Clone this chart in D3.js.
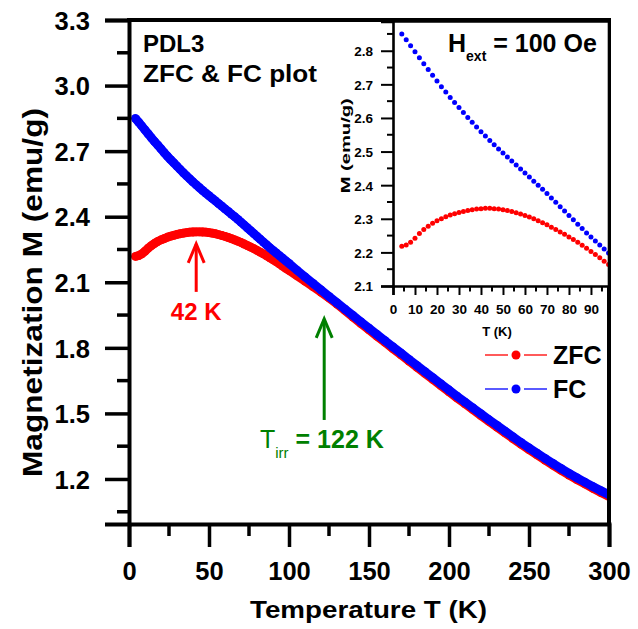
<!DOCTYPE html>
<html>
<head>
<meta charset="utf-8">
<script src="https://cdn.jsdelivr.net/npm/d3@7"></script>
<style>
  html, body { margin: 0; padding: 0; background: #fff; }
  svg { display: block; }
  text { font-family: "Liberation Sans", Arial, Helvetica, sans-serif; }
</style>
</head>
<body>
<svg id="chart" width="638" height="629"></svg>
<script>
// Temperature grid (K): 2 K steps up to 98 K, 5 K steps above
const temperature = [
  4, 6, 8, 10, 12, 14, 16, 18, 20, 22,
  24, 26, 28, 30, 32, 34, 36, 38, 40, 42,
  44, 46, 48, 50, 52, 54, 56, 58, 60, 62,
  64, 66, 68, 70, 72, 74, 76, 78, 80, 82,
  84, 86, 88, 90, 92, 94, 96, 98,
  100, 105, 110, 115, 120, 125, 130, 135, 140, 145,
  150, 155, 160, 165, 170, 175, 180, 185, 190, 195,
  200, 205, 210, 215, 220, 225, 230, 235, 240, 245,
  250, 255, 260, 265, 270, 275, 280, 285, 290, 295,
  300
];

// Zero-field-cooled magnetization (emu/g)
const magZFC = [
  2.218, 2.222, 2.230, 2.242, 2.256, 2.268, 2.278, 2.287, 2.294, 2.300,
  2.306, 2.311, 2.315, 2.319, 2.322, 2.325, 2.327, 2.329, 2.330, 2.331,
  2.331, 2.330, 2.329, 2.327, 2.325, 2.322, 2.318, 2.314, 2.310, 2.305,
  2.300, 2.294, 2.288, 2.282, 2.275, 2.268, 2.261, 2.254, 2.246, 2.238,
  2.230, 2.221, 2.212, 2.203, 2.194, 2.184, 2.174, 2.164,
  2.154, 2.130, 2.105, 2.080, 2.055, 2.028, 2.000, 1.971, 1.941, 1.911,
  1.882, 1.853, 1.825, 1.796, 1.768, 1.739, 1.711, 1.683, 1.655, 1.627,
  1.599, 1.571, 1.544, 1.517, 1.490, 1.463, 1.437, 1.411, 1.385, 1.359,
  1.334, 1.310, 1.286, 1.263, 1.240, 1.218, 1.197, 1.177, 1.157, 1.138,
  1.120
];

// Field-cooled magnetization (emu/g)
const magFC = [
  2.850, 2.833, 2.815, 2.797, 2.779, 2.761, 2.744, 2.727, 2.710, 2.693,
  2.677, 2.661, 2.646, 2.631, 2.616, 2.601, 2.587, 2.573, 2.559, 2.546,
  2.533, 2.520, 2.508, 2.496, 2.484, 2.472, 2.460, 2.448, 2.436, 2.424,
  2.412, 2.400, 2.388, 2.375, 2.362, 2.349, 2.336, 2.323, 2.310, 2.297,
  2.284, 2.271, 2.258, 2.246, 2.234, 2.222, 2.210, 2.198,
  2.186, 2.155, 2.125, 2.095, 2.065, 2.035, 2.006, 1.977, 1.948, 1.919,
  1.890, 1.861, 1.833, 1.804, 1.776, 1.747, 1.719, 1.691, 1.663, 1.635,
  1.607, 1.579, 1.552, 1.525, 1.498, 1.471, 1.445, 1.419, 1.393, 1.367,
  1.342, 1.318, 1.294, 1.271, 1.248, 1.226, 1.205, 1.185, 1.165, 1.146,
  1.128
];

// Axis ticks
const mainXTicks = [0, 50, 100, 150, 200, 250, 300];
const mainXMinor = [25, 75, 125, 175, 225, 275];
const mainYTicks = [1.2, 1.5, 1.8, 2.1, 2.4, 2.7, 3.0, 3.3];
const mainYMinor = [1.05, 1.35, 1.65, 1.95, 2.25, 2.55, 2.85, 3.15];
const insetXTicks = [0, 10, 20, 30, 40, 50, 60, 70, 80, 90];
const insetXMinor = [5, 15, 25, 35, 45, 55, 65, 75, 85, 95];
const insetYTicks = [2.1, 2.2, 2.3, 2.4, 2.5, 2.6, 2.7, 2.8];
const insetYMinor = [2.15, 2.25, 2.35, 2.45, 2.55, 2.65, 2.75, 2.85];

// Annotated temperatures (K)
const peakZFC = 42;
const tIrr = 122;

const series = [
  { name: "ZFC", color: "#ff0000", values: magZFC },
  { name: "FC",  color: "#0000ff", values: magFC }
];
const points = s => temperature.map((t, i) => ({ t, m: s.values[i] }));

const svg = d3.select("#chart");
const FONT_AXIS = 25.5;

// ---------- main panel ----------
const main = { left: 129, right: 609, top: 20, bottom: 524 };
const x = d3.scaleLinear().domain([0, 300]).range([main.left, main.right]);
const y = d3.scaleLinear().domain([0.994, 3.3]).range([main.bottom, main.top]);

svg.append("defs").append("clipPath").attr("id", "clipMain")
  .append("rect")
  .attr("x", main.left).attr("y", main.top)
  .attr("width", main.right - main.left).attr("height", main.bottom - main.top);

const plot = svg.append("g").attr("clip-path", "url(#clipMain)");
const mainR = 4.4;
series.forEach(s => {
  const pts = points(s);
  plot.append("path")
    .datum(pts)
    .attr("fill", "none")
    .attr("stroke", s.color)
    .attr("stroke-width", mainR * 2)
    .attr("stroke-linejoin", "round")
    .attr("d", d3.line().x(d => x(d.t)).y(d => y(d.m)));
  plot.append("g").selectAll("circle").data(pts).join("circle")
    .attr("cx", d => x(d.t)).attr("cy", d => y(d.m))
    .attr("r", mainR).attr("fill", s.color);
});

// Axes: ticks point outward, thick strokes
const axisX = d3.axisBottom(x).tickValues(mainXTicks).tickSize(23).tickPadding(15)
  .tickFormat(d3.format("d"));
const gx = svg.append("g").attr("transform", `translate(0,${main.bottom})`).call(axisX);
gx.append("g").selectAll("line").data(mainXMinor).join("line")
  .attr("x1", d => x(d)).attr("x2", d => x(d)).attr("y1", 0).attr("y2", 12)
  .attr("stroke", "#000").attr("stroke-width", 3.5);

const axisY = d3.axisLeft(y).tickValues(mainYTicks).tickSize(24).tickPadding(15)
  .tickFormat(d3.format(".1f"));
const gy = svg.append("g").attr("transform", `translate(${main.left},0)`).call(axisY);
gy.append("g").selectAll("line").data(mainYMinor).join("line")
  .attr("y1", d => y(d)).attr("y2", d => y(d)).attr("x1", 0).attr("x2", -12)
  .attr("stroke", "#000").attr("stroke-width", 3.5);

[gx, gy].forEach(g => {
  g.select(".domain").attr("stroke-width", 4).attr("stroke", "#000");
  g.selectAll(".tick line").attr("stroke-width", 3.5).attr("stroke", "#000");
  g.selectAll(".tick text")
    .attr("fill", "#000")
    .style("font-size", FONT_AXIS + "px")
    .style("font-weight", "bold");
});
gx.selectAll(".tick text").attr("dy", "0.71em");
gy.selectAll(".tick text").attr("dy", "0.36em");

// top and right frame lines
svg.append("path")
  .attr("d", `M${main.left - 2},${main.top} H${main.right} V${main.bottom + 2}`)
  .attr("fill", "none").attr("stroke", "#000").attr("stroke-width", 4);

// axis titles
svg.append("text")
  .attr("x", 250).attr("y", 618)
  .attr("textLength", 237).attr("lengthAdjust", "spacingAndGlyphs")
  .style("font-size", "24px").style("font-weight", "bold")
  .text("Temperature T (K)");

svg.append("text")
  .attr("transform", "translate(41.5,477) rotate(-90)")
  .attr("textLength", 369).attr("lengthAdjust", "spacingAndGlyphs")
  .style("font-size", "27px").style("font-weight", "bold")
  .text("Magnetization M (emu/g)");

// sample title
svg.append("text").attr("x", 143).attr("y", 52)
  .style("font-size", "24px").style("font-weight", "bold")
  .text("PDL3");
svg.append("text").attr("x", 143).attr("y", 82)
  .attr("textLength", 174).attr("lengthAdjust", "spacingAndGlyphs")
  .style("font-size", "24px").style("font-weight", "bold")
  .text("ZFC & FC plot");

// annotation arrows (open V heads)
function arrow(t, mTip, mTail, color) {
  const ax = x(t), yTip = y(mTip), yTail = y(mTail);
  const g = svg.append("g").attr("stroke", color).attr("stroke-width", 3)
    .attr("fill", "none");
  g.append("line").attr("x1", ax).attr("x2", ax).attr("y1", yTail).attr("y2", yTip + 1);
  g.append("polyline")
    .attr("points", `${ax - 8},${yTip + 20} ${ax},${yTip + 1} ${ax + 8},${yTip + 20}`)
    .attr("stroke-linejoin", "miter");
}
arrow(peakZFC, 2.28, 2.056, "#ff0000");
arrow(tIrr, 1.937, 1.47, "#008000");

svg.append("text").attr("x", x(peakZFC)).attr("y", 320)
  .attr("text-anchor", "middle")
  .attr("fill", "#ff0000")
  .style("font-size", "24px").style("font-weight", "bold")
  .text(`${peakZFC} K`);

const tl = svg.append("text").attr("x", 260).attr("y", 448).attr("fill", "#008000")
  .style("font-size", "25px");
tl.append("tspan").text("T");
tl.append("tspan").attr("dy", 10).style("font-size", "15px").text("irr");
tl.append("tspan").attr("dy", -10).style("font-weight", "bold").text(` = ${tIrr} K`);

// legend
const legend = svg.append("g");
series.forEach((s, i) => {
  const ly = 355 + i * 34;
  const g = legend.append("g").attr("transform", `translate(0,${ly})`);
  g.append("line").attr("x1", 485).attr("x2", 508).attr("y1", 0).attr("y2", 0)
    .attr("stroke", s.color).attr("stroke-width", 1.3);
  g.append("line").attr("x1", 524).attr("x2", 547).attr("y1", 0).attr("y2", 0)
    .attr("stroke", s.color).attr("stroke-width", 1.3);
  g.append("circle").attr("cx", 516).attr("cy", 0).attr("r", 4.5).attr("fill", s.color);
  g.append("text").attr("x", 553).attr("y", 8.5)
    .style("font-size", "25px").style("font-weight", "bold")
    .text(s.name);
});

// ---------- inset panel ----------
const ins = { left: 393, right: 609, top: 21.5, bottom: 286 };
const xi = d3.scaleLinear().domain([0, 98.2]).range([ins.left, ins.right]);
const yi = d3.scaleLinear().domain([2.1, 2.887]).range([ins.bottom, ins.top]);

svg.append("rect")
  .attr("x", ins.left).attr("y", ins.top)
  .attr("width", ins.right - ins.left).attr("height", ins.bottom - ins.top)
  .attr("fill", "#fff");

svg.select("defs").append("clipPath").attr("id", "clipInset")
  .append("rect")
  .attr("x", ins.left).attr("y", ins.top)
  .attr("width", ins.right - ins.left + 1).attr("height", ins.bottom - ins.top);

const iplot = svg.append("g").attr("clip-path", "url(#clipInset)");
series.forEach(s => {
  iplot.append("g").selectAll("circle")
    .data(points(s).filter(d => d.t <= 98.5)).join("circle")
    .attr("cx", d => xi(d.t)).attr("cy", d => yi(d.m))
    .attr("r", 2.5).attr("fill", s.color);
});

const ixAxis = d3.axisBottom(xi).tickValues(insetXTicks).tickSize(9).tickPadding(9)
  .tickFormat(d3.format("d"));
const gxi = svg.append("g").attr("transform", `translate(0,${ins.bottom})`).call(ixAxis);
gxi.append("g").selectAll("line").data(insetXMinor).join("line")
  .attr("x1", d => xi(d)).attr("x2", d => xi(d)).attr("y1", 0).attr("y2", 5.5)
  .attr("stroke", "#000").attr("stroke-width", 2);

const iyAxis = d3.axisLeft(yi).tickValues(insetYTicks).tickSize(12).tickPadding(8)
  .tickFormat(d3.format(".1f"));
const gyi = svg.append("g").attr("transform", `translate(${ins.left},0)`).call(iyAxis);
gyi.append("g").selectAll("line").data(insetYMinor).join("line")
  .attr("y1", d => yi(d)).attr("y2", d => yi(d)).attr("x1", 0).attr("x2", -6)
  .attr("stroke", "#000").attr("stroke-width", 2);

[gxi, gyi].forEach(g => {
  g.select(".domain").attr("stroke-width", 2.6).attr("stroke", "#000");
  g.selectAll(".tick line").attr("stroke-width", 2).attr("stroke", "#000");
  g.selectAll(".tick text")
    .attr("fill", "#000")
    .style("font-size", "13.5px")
    .style("font-weight", "bold");
});
gxi.selectAll(".tick text").attr("dy", "0.71em");
gyi.selectAll(".tick text").attr("dy", "0.36em");

svg.append("path")
  .attr("d", `M${ins.left},${ins.top} H${ins.right} V${ins.bottom}`)
  .attr("fill", "none").attr("stroke", "#000").attr("stroke-width", 2.6);

svg.append("text").attr("x", (ins.left + ins.right) / 2 - 4).attr("y", 336)
  .attr("text-anchor", "middle")
  .style("font-size", "13px").style("font-weight", "bold")
  .text("T (K)");

svg.append("text")
  .attr("transform", `translate(350,${(ins.top + ins.bottom) / 2 - 8}) rotate(-90)`)
  .attr("text-anchor", "middle")
  .attr("textLength", 95).attr("lengthAdjust", "spacingAndGlyphs")
  .style("font-size", "12px").style("font-weight", "bold")
  .text("M (emu/g)");

const ht = svg.append("text").attr("x", 448).attr("y", 52)
  .style("font-size", "25px").style("font-weight", "bold");
ht.append("tspan").text("H");
ht.append("tspan").attr("dy", 9).style("font-size", "14px").text("ext");
ht.append("tspan").attr("dy", -9).text(" = 100 Oe");
</script>
</body>
</html>
